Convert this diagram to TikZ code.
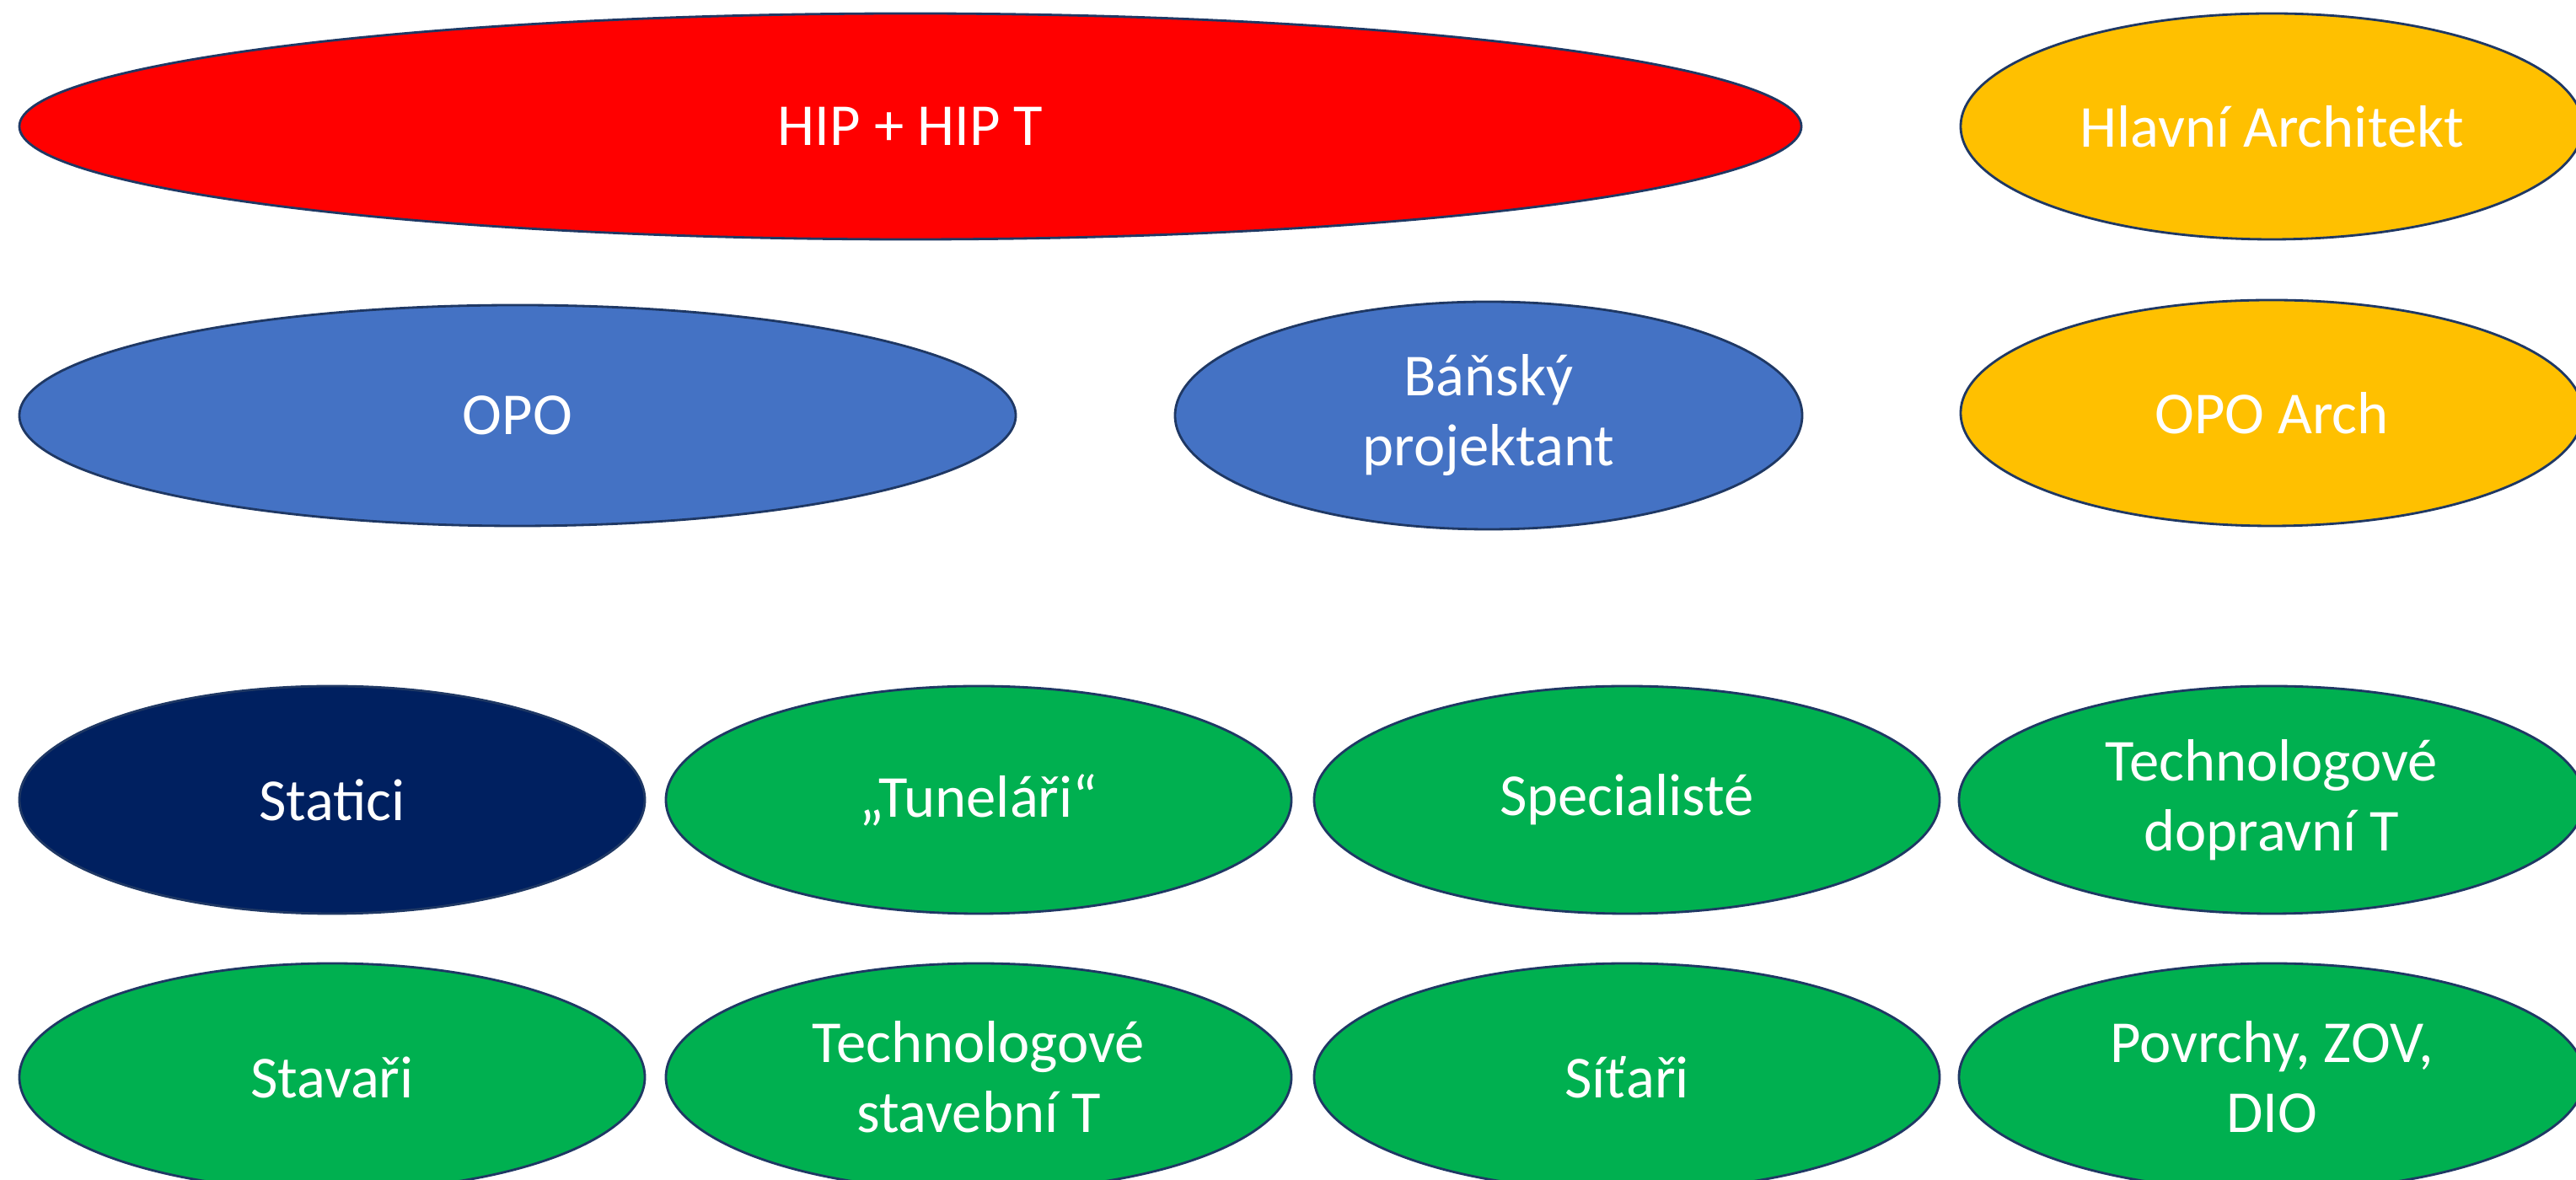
\documentclass[tikz,border=0pt]{standalone}
\usepackage{fontspec}
\setmainfont{Carlito}
\usetikzlibrary{shapes.geometric}
\definecolor{edgenavy}{HTML}{1F3864}
\definecolor{hipred}{HTML}{FF0000}
\definecolor{archgold}{HTML}{FFC000}
\definecolor{opoblue}{HTML}{4472C4}
\definecolor{teamgreen}{HTML}{00B050}
\definecolor{statnavy}{HTML}{002060}
\tikzset{
  oval/.style={ellipse, draw=edgenavy, line width=0.8pt, inner sep=0pt, outer sep=0pt,
    text=white, align=center, font=\fontsize{20.1pt}{23.6pt}\selectfont},
  smalloval/.style={oval, minimum width=7.42cm, minimum height=2.70cm},
}
\begin{document}
\begin{tikzpicture}
\useasboundingbox (0,0) rectangle (30.56,14);
\fill[white] (0,0) rectangle (30.56,14);
% top row
\node[oval, fill=hipred, minimum width=21.14cm, minimum height=2.68cm] (hip) at (10.80,12.50) {HIP + HIP T};
\node[oval, fill=archgold, minimum width=7.38cm, minimum height=2.68cm] (hla) at (26.95,12.50) {Hlavní Architekt};
% second row
\node[oval, fill=opoblue, minimum width=11.82cm, minimum height=2.62cm] (opo) at (6.14,9.07) {OPO};
\node[oval, fill=opoblue, minimum width=7.44cm, minimum height=2.70cm] (ban) at (17.66,9.07) {Báňský\\projektant};
\node[oval, fill=archgold, minimum width=7.38cm, minimum height=2.68cm] (opoa) at (26.95,9.10) {OPO Arch};
% third row
\node[smalloval, fill=statnavy] (sta) at (3.94,4.51) {Statici};
\node[smalloval, fill=teamgreen] (tun) at (11.61,4.51) {„Tuneláři“};
\node[smalloval, fill=teamgreen] (spe) at (19.30,4.51) {Specialisté};
\node[smalloval, fill=teamgreen] (tdt) at (26.95,4.51) {Technologové\\dopravní T};
% fourth row
\node[smalloval, fill=teamgreen] (stv) at (3.94,1.22) {Stavaři};
\node[smalloval, fill=teamgreen] (tst) at (11.61,1.22) {Technologové\\stavební T};
\node[smalloval, fill=teamgreen] (sit) at (19.30,1.22) {Síťaři};
\node[smalloval, fill=teamgreen] (pov) at (26.95,1.22) {Povrchy, ZOV,\\DIO};
\end{tikzpicture}
\end{document}
